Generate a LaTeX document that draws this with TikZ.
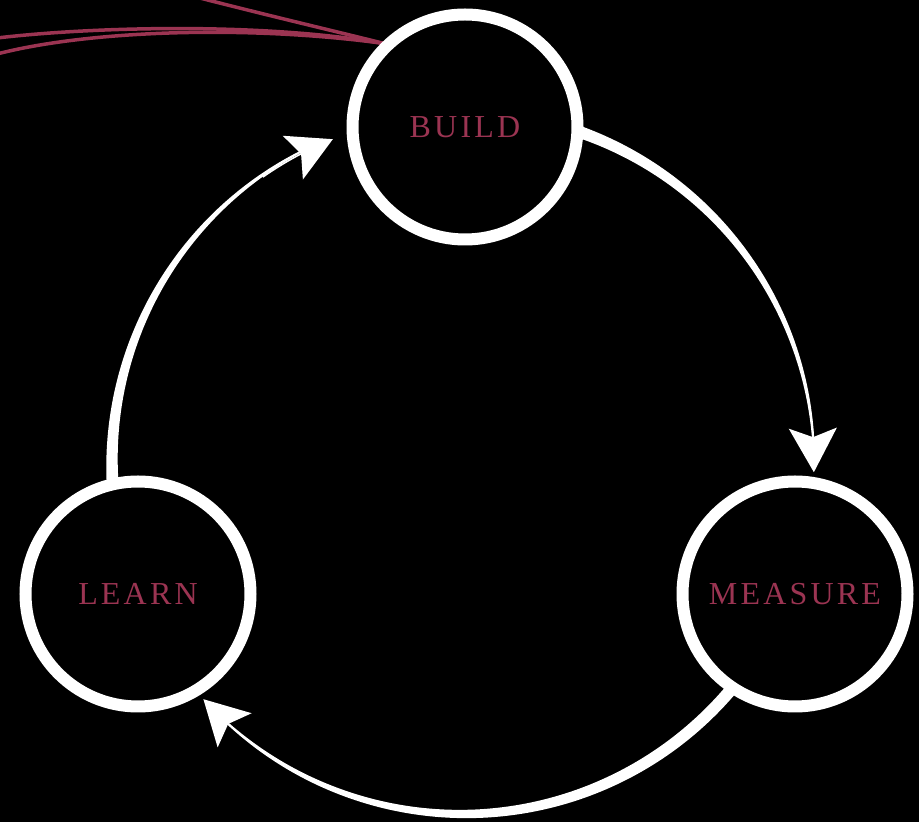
\documentclass[tikz,border=0pt]{standalone}
\usepackage{fontspec}
\setmainfont{Liberation Serif}
\newfontfamily\labelfont[LetterSpace=10]{Liberation Serif}
\usetikzlibrary{arrows.meta,calc,bending}
\definecolor{wine}{RGB}{155,52,82}
\tikzset{
  ring/.style={circle, draw=white, line width=12pt, inner sep=0pt, minimum size=225pt,
    text=wine, font=\labelfont\fontsize{32}{32}\selectfont},
  redline/.style={draw=wine, line width=3.5pt},
  headarrow/.style={draw=white, line width=1.5pt,
    -{Stealth[flex, length=44pt, width=48pt, inset=9pt]}},
}
% tapered arc around current origin: start angle, end angle, start width, end width, exponent
\newcommand\taperarc[5]{%
  \fill[white] plot[domain=#1:#2, samples=100]
    ({(351+(#3-((#3)-(#4))*((\x-(#1))/((#2)-(#1))+0.0001)^(#5))/2)*cos(\x)},
     {(351+(#3-((#3)-(#4))*((\x-(#1))/((#2)-(#1))+0.0001)^(#5))/2)*sin(\x)})
    -- plot[domain=#2:#1, samples=100]
    ({(351-(#3-((#3)-(#4))*((\x-(#1))/((#2)-(#1))+0.0001)^(#5))/2)*cos(\x)},
     {(351-(#3-((#3)-(#4))*((\x-(#1))/((#2)-(#1))+0.0001)^(#5))/2)*sin(\x)})
    -- cycle;}
\begin{document}
\begin{tikzpicture}[x=1pt,y=1pt]
\useasboundingbox (0,0) rectangle (919,822);
\fill[black] (0,0) rectangle (919,822);
\coordinate (O) at (463,359);

% node positions
\path (465,695) coordinate (bc) (795,228) coordinate (mc) (138,228) coordinate (lc);

% red threads into BUILD
\coordinate (r1) at (192,826);
\coordinate (r2) at (-3,784);
\coordinate (r3) at (-3,768);
\coordinate (rj) at ($(bc)+(134:116)$);
\draw[redline] (r1) .. controls (270,806) and (330,792) .. (rj);
\draw[redline] (r2) .. controls (90,795) and (260,800) .. (rj);
\draw[redline] (r3) .. controls (90,792) and (250,797) .. (rj);

% tapered cycle arcs
\begin{scope}[shift={(O)}]
  \taperarc{71}{3}{12}{2}{1}
  \taperarc{-40}{-133}{12}{2}{1.6}
  \taperarc{184}{117}{12}{2}{1}
\end{scope}
\draw[headarrow] ($(O)+(12:351)$) arc[start angle=12, end angle=-1.5, radius=351];
\draw[headarrow] ($(O)+(-124:351)$) arc[start angle=-124, end angle=-137.7, radius=351];
\draw[headarrow] ($(O)+(125:349)$) arc[start angle=125, end angle=111.9, radius=349];

\node[ring] (build) at (bc) {BUILD};
\node[ring] (measure) at (mc) {MEASURE};
\node[ring] (learn) at (lc) {LEARN};
\end{tikzpicture}
\end{document}
